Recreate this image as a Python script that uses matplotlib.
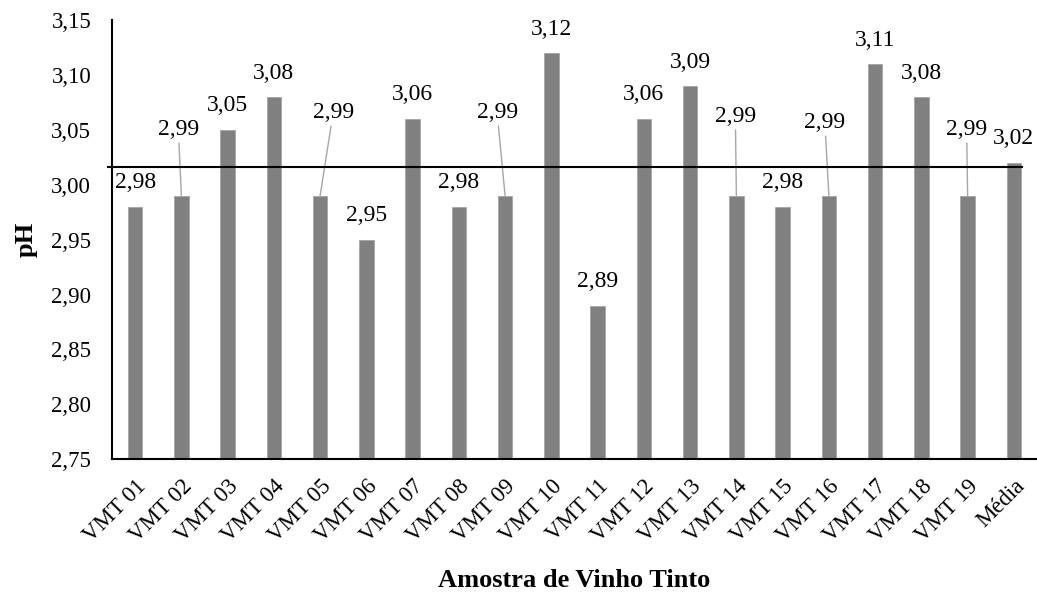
import numpy as np
import matplotlib
matplotlib.use("Agg")
import matplotlib.pyplot as plt
from matplotlib.ticker import FuncFormatter

plt.rcParams["font.family"] = ["Liberation Serif", "DejaVu Serif"]

samples = [f"VMT {i:02d}" for i in range(1, 20)] + ["Média"]
ph_values = [2.98, 2.99, 3.05, 3.08, 2.99, 2.95, 3.06, 2.98, 2.99, 3.12,
             2.89, 3.06, 3.09, 2.99, 2.98, 2.99, 3.11, 3.08, 2.99, 3.02]
reference_ph = 3.016

# labels that sit higher with a leader line (pixel offsets from bar top)
leader_offsets = {1: (-3, 66), 4: (13, 83), 8: (-8, 83),
                  13: (-1, 79), 15: (-4, 73), 18: (-1, 66)}

def comma(v, pos=None):
    return f"{v:.2f}".replace(".", ",")

fig = plt.figure(figsize=(10.37, 5.94), dpi=100)
ax = fig.add_axes([0.108, 0.227, 0.892, 0.739])

x = np.arange(len(samples))
ax.bar(x, ph_values, width=0.31, color="#808080", edgecolor="#a0a0a0",
       linewidth=0.5, zorder=2)

for i, v in enumerate(ph_values):
    if i in leader_offsets:
        dx, dy = leader_offsets[i]
        ax.annotate(comma(v), xy=(i, v), xytext=(dx, dy),
                    textcoords="offset pixels", ha="center", va="center",
                    fontsize=17,
                    arrowprops=dict(arrowstyle="-", color="#a6a6a6", lw=1,
                                    shrinkA=0, shrinkB=0))
    else:
        ax.annotate(comma(v), xy=(i, v), xytext=(0, 24),
                    textcoords="offset pixels", ha="center", va="center",
                    fontsize=17)

ax.axhline(reference_ph, xmin=-0.004, xmax=0.984, color="black", lw=1.5,
           clip_on=False, zorder=3)

ax.set_xlim(-0.5, len(samples) - 0.5)
ax.set_ylim(2.75, 3.15)
ax.set_yticks(np.arange(2.75, 3.151, 0.05))
ax.yaxis.set_major_formatter(FuncFormatter(comma))
ax.set_xticks(x, labels=samples, rotation=45, ha="right",
              rotation_mode="anchor")
ax.tick_params(axis="both", length=0, labelsize=16.5)
ax.tick_params(axis="y", pad=15)
ax.tick_params(axis="x", pad=12)

for side in ["top", "right"]:
    ax.spines[side].set_visible(False)
for side in ["left", "bottom"]:
    ax.spines[side].set_linewidth(1.5)

ax.set_ylabel("pH", fontsize=19, fontweight="bold", labelpad=10)
ax.set_xlabel("Amostra de Vinho Tinto", fontsize=19, fontweight="bold",
              labelpad=16)

fig.savefig("out.png", dpi=100)
